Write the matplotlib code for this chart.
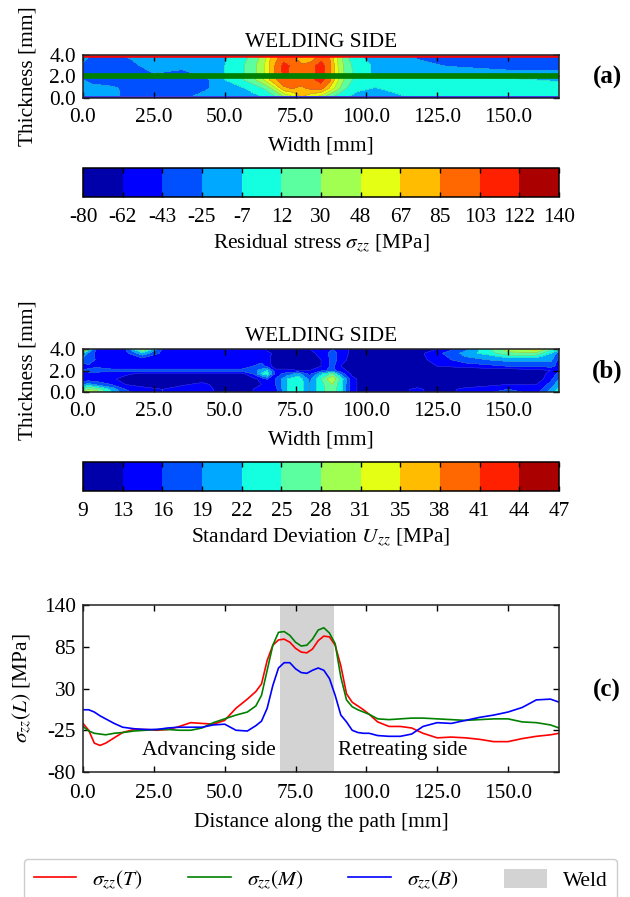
import numpy as np
from matplotlib import pyplot as plt
from matplotlib.patches import Patch
from matplotlib.lines import Line2D

plt.rcParams["font.family"] = ["Liberation Serif", "DejaVu Serif"]
plt.rcParams["mathtext.fontset"] = "stix"
plt.rcParams["font.size"] = 15.4
plt.rcParams["axes.unicode_minus"] = False

W, H = 630, 897

# panel (a) residual stress, MPa
levels_a = [-80, -62, -43, -25, -7, 12, 30, 48, 67, 85, 103, 122, 140]
x_a = [0, 3, 10, 17, 25, 35, 43, 50, 56, 60, 64, 67, 71, 74, 77, 80, 84, 87, 90, 93, 97, 103, 110, 118, 130, 150, 168]
y_a = [0.2, 0.9, 1.7, 2.3, 3.0, 3.8]
stress = [
    [-18, -18, -20, -32, -35, -30, -20, -16, -14, -12, -4, 8, 35, 50, 70, 60, 45, 20, 5, -4, -14, -18, -10, -3, 0, 2, 2],
    [-18, -22, -22, -30, -35, -36, -28, -16, -10, 0, 14, 35, 82, 86, 80, 88, 92, 65, 35, 12, -2, -8, -3, 2, 3, 3, 3],
    [-25, -28, -34, -35, -35, -35, -30, -7, 10, 25, 50, 80, 95, 96, 97, 98, 110, 92, 50, 22, 3, -1, -2, 0, 1, -4, -10],
    [-28, -30, -32, -30, -25, -30, -20, -7, 9, 23, 48, 80, 108, 98, 92, 92, 112, 92, 50, 22, 3, -10, -14, -14, -18, -20, -20],
    [-30, -30, -30, -28, -20, -20, -20, -7, 9, 23, 48, 80, 110, 98, 92, 92, 112, 92, 48, 20, 3, -10, -18, -22, -26, -32, -32],
    [-18, -28, -28, -24, -18, -18, -18, -10, 5, 18, 40, 78, 92, 88, 65, 72, 92, 85, 45, 15, -3, -16, -18, -26, -30, -32, -34],
]

# panel (b) standard deviation, MPa
levels_b = [9, 13, 16, 19, 22, 25, 28, 31, 35, 38, 41, 44, 47]
x_b = [0, 2, 5, 10, 15, 21, 28, 42, 50, 56, 60, 63, 65, 68, 72, 76, 80, 84, 88, 91, 95, 100, 110, 118, 125, 135, 150, 160, 165, 168]
y_b = [0, 0.25, 0.7, 1.2, 1.7, 2.0, 2.4, 3.0, 3.6, 4.0]
deviation = [
    [28, 30, 29, 22, 17, 14, 13, 14, 12, 11.5, 13, 14, 15, 15, 22, 24.5, 19, 24, 27, 23, 14, 11, 11, 14, 11, 14, 17, 15, 20, 24],
    [26, 28, 27, 21, 16, 14, 13, 14, 12, 11.5, 13, 14, 15, 15, 22, 24.5, 19, 24, 27, 23, 14, 11, 11, 14, 11, 14, 16, 14, 19, 23],
    [19, 20, 18, 16, 13, 12, 11, 14, 11, 11, 12, 13, 15, 16, 22, 24.5, 19, 24, 28, 23, 14, 11, 11, 11, 11, 11, 13, 13, 17, 21],
    [14, 14, 14, 14, 11, 11, 11, 11, 11, 11, 12, 14, 16, 16, 22, 24.5, 18, 25, 31, 24, 14, 11, 11, 11, 11, 11, 11, 11, 15, 19],
    [14, 15, 14, 14, 14, 12, 12, 12, 12, 12, 16, 22, 24, 15, 17, 20, 15, 21, 26, 18, 12, 11, 11, 11, 11, 11, 11, 11, 14, 17],
    [16, 17, 18, 17, 17, 17, 17, 17, 17, 17, 18, 20, 22, 14, 14, 13, 13, 15, 17, 14, 12, 11, 11, 11, 11, 11, 11, 12, 13, 15],
    [14, 15, 15, 14, 14, 14, 14, 14, 14, 14, 16, 17, 15, 11, 11, 11, 11, 13, 17, 13, 11, 11, 11, 12, 13, 14, 16, 16, 17, 15],
    [18, 19, 15, 14, 14, 14, 14, 14, 14, 14, 14, 15, 14, 11, 11, 11, 11, 13, 17, 15, 11, 11, 11, 12, 14, 18, 20, 20, 20, 15],
    [22, 18, 15, 14, 15, 21, 15, 14, 14, 14, 15, 16, 14, 12, 12, 12, 12, 14, 17, 15, 12, 11, 11, 12, 15, 20, 27, 27, 22, 17],
    [38, 24, 15, 14, 16, 30, 16, 14, 13, 13, 14, 16, 12, 11, 11, 11, 13, 14, 16, 15, 12, 11, 11, 11, 13, 18, 30, 33, 26, 24],
]

# panel (c) stress along the path, MPa
distance = [0, 2, 4, 6, 8, 11, 14, 18, 22, 26, 30, 34, 38, 42, 46, 50, 54, 58, 61, 63, 65, 67, 69, 71, 73, 75, 77,
            79, 81, 83, 85, 87, 89, 91, 93, 95, 97, 99, 101, 104, 108, 112, 116, 120, 125, 130, 135, 140, 145, 150,
            155, 160, 165, 168]
sigma_t = [-16, -25, -42, -45, -42, -35, -28, -24, -24, -25, -24, -20, -15, -16, -17, -12, 4, 16, 26, 36, 67, 87, 94, 95, 91, 83, 78,
           77, 82, 93, 99, 98, 87, 60, 23, 12, 7, 2, -4, -14, -20, -20, -22, -29, -35, -34, -35, -37, -40, -40,
           -36, -33, -31, -29]
sigma_m = [-20, -26, -29, -30, -31, -29, -28, -26, -25, -24, -24, -25, -25, -22, -15, -10, -5, -1, 7, 21, 54, 87, 104, 105, 100, 91, 86,
           87, 95, 107, 110, 103, 89, 45, 15, 6, 2, -1, -4, -10, -11, -10, -9, -9, -10, -11, -12, -11, -10, -10,
           -14, -15, -18, -22]
sigma_b = [2, 2, -1, -6, -10, -16, -21, -23, -24, -24, -22, -21, -21, -21, -18, -17, -25, -26, -19, -13, 4, 34, 57, 64, 64, 56, 51,
           50, 54, 57, 54, 43, 21, -5, -14, -25, -28, -29, -29, -32, -33, -33, -30, -20, -15, -16, -12, -8, -5, -1,
           5, 15, 16, 12]
weld_start, weld_end = 69.7, 88.5

x_ticks = [0, 25, 50, 75, 100, 125, 150]
y_ticks = [0, 2, 4]
c_ticks = [-80, -25, 30, 85, 140]

band_colors = ["#0000aa", "#0000ff", "#0050ff", "#00a8ff", "#14ffe0", "#5cffa0",
               "#a0ff50", "#e4ff14", "#ffbc00", "#ff6800", "#ff2000", "#aa0000"]


def px_axes(left, top, right, bottom):
    return fig.add_axes([left / W, 1 - bottom / H, (right - left) / W, (bottom - top) / H])


def style_axes(ax, pad=7):
    ax.tick_params(direction="in", top=True, right=True, length=4, width=1, labelsize=15.4)
    ax.tick_params(axis="x", pad=pad)
    ax.tick_params(axis="y", pad=5)
    for s in ax.spines.values():
        s.set_linewidth(1.1)
        s.set_color("#222222")


def contour_panel(top, x, y, z, levels, title):
    ax = px_axes(83, top, 559, top + 43)
    cs = ax.contourf(x, y, z, levels=levels, colors=band_colors)
    ax.contour(x, y, z, levels=levels, colors="#777777", linewidths=0.3, alpha=0.6)
    ax.set_xlim(0, 168)
    ax.set_ylim(0, 4)
    ax.set_xticks(x_ticks, ["{:.1f}".format(t) for t in x_ticks])
    ax.set_yticks(y_ticks, ["{:.1f}".format(t) for t in y_ticks])
    ax.set_xlabel("Width [mm]", labelpad=7)
    ax.set_ylabel("Thickness [mm]")
    ax.yaxis.set_label_coords(-0.095, 0.5)
    ax.set_title(title, fontsize=15.4, pad=6)
    style_axes(ax)
    return ax, cs


def colour_bar(top, cs, levels, label):
    cax = px_axes(83, top, 559, top + 29)
    cb = fig.colorbar(cs, cax=cax, orientation="horizontal", spacing="uniform")
    cb.set_ticks(levels, labels=[str(v) for v in levels])
    cb.set_label(label, labelpad=4, fontsize=15.4)
    cax.tick_params(direction="in", length=3.5, width=1, pad=8, labelsize=15.4, top=True)
    cb.outline.set_linewidth(1.1)
    return cb


fig = plt.figure(figsize=(W / 100, H / 100), dpi=100)

ax_a, cs_a = contour_panel(55, x_a, y_a, stress, levels_a, "WELDING SIDE")
ax_a.axhline(2.0, color="green", lw=4.1)
ax_a.axhline(3.93, color="red", lw=1.8)
ax_a.axhline(0.07, color="#0000dd", lw=1.8)
colour_bar(168, cs_a, levels_a, r"Residual stress $\sigma_{zz}$ [MPa]")

ax_b, cs_b = contour_panel(349, x_b, y_b, deviation, levels_b, "WELDING SIDE")
colour_bar(462, cs_b, levels_b, r"Standard Deviation $U_{zz}$ [MPa]")

ax_c = px_axes(83, 605, 559, 772)
ax_c.axvspan(weld_start, weld_end, color="lightgray", lw=0)
ax_c.plot(distance, sigma_t, color="red", lw=1.2)
ax_c.plot(distance, sigma_m, color="green", lw=1.2)
ax_c.plot(distance, sigma_b, color="blue", lw=1.2)
ax_c.set_xlim(0, 168)
ax_c.set_ylim(-80, 140)
ax_c.set_xticks(x_ticks, ["{:.1f}".format(t) for t in x_ticks])
ax_c.set_yticks(c_ticks)
ax_c.set_xlabel("Distance along the path [mm]", labelpad=6.5)
ax_c.set_ylabel(r"$\sigma_{zz}(L)$ [MPa]")
ax_c.yaxis.set_label_coords(-0.103, 0.5)
ax_c.text(21, -52, "Advancing side", va="center")
ax_c.text(90, -52, "Retreating side", va="center")
style_axes(ax_c, pad=9)

for label, y_px in zip(["(a)", "(b)", "(c)"], [77, 371, 690]):
    fig.text(607 / W, 1 - y_px / H, label, ha="center", va="center", fontsize=18, fontweight="bold")

handles = [
    Line2D([], [], color="red", lw=1.2),
    Line2D([], [], color="green", lw=1.2),
    Line2D([], [], color="blue", lw=1.2),
    Patch(color="lightgray", lw=0),
]
names = [r"$\sigma_{zz}(T)$", r"$\sigma_{zz}(M)$", r"$\sigma_{zz}(B)$", "Weld"]
fig.legend(handles, names, ncol=4, loc="upper left", bbox_to_anchor=(24 / W, 1 - 859 / H), borderaxespad=0,
           handlelength=2.0, handleheight=1.0, handletextpad=0.75, columnspacing=2.12, fontsize=15.4,
           fancybox=True, edgecolor="#cccccc", framealpha=1, borderpad=0.45)

fig.savefig("out.png", dpi=100)
